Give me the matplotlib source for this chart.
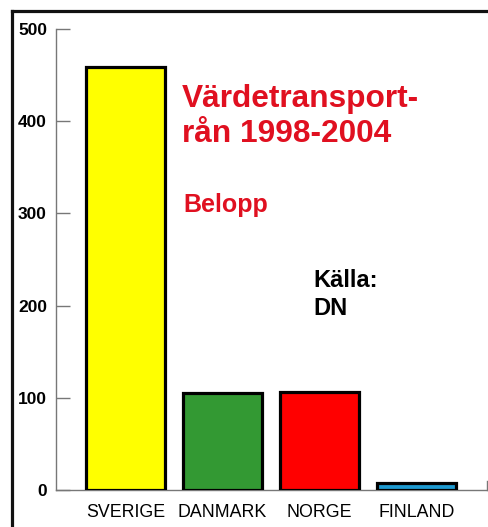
import matplotlib
matplotlib.use('Agg')
import matplotlib.pyplot as plt
from matplotlib.lines import Line2D

plt.rcParams['font.family'] = ['Liberation Sans', 'DejaVu Sans']

# data
countries = ['SVERIGE', 'DANMARK', 'NORGE', 'FINLAND']
belopp = [459, 105, 106, 8]
bar_colors = ['#ffff00', '#339933', '#ff0000', '#1e9ad0']
y_ticks = [0, 100, 200, 300, 400, 500]

W, H = 489, 527
fig = plt.figure(figsize=(W / 100, H / 100), dpi=100)
fig.patch.set_facecolor('white')

# plot area in pixels: x 56..487, y 29..490
ax = fig.add_axes([56 / W, 1 - 490 / H, (487 - 56) / W, (490 - 29) / H])
ax.set_facecolor('none')

x = list(range(len(countries)))
ax.bar(x, belopp, width=0.815, color=bar_colors, edgecolor='black', linewidth=2.3, zorder=3)

ax.set_xlim(-0.716, 3.727)
ax.set_ylim(0, 500)
ax.set_yticks(y_ticks)
ax.set_xticks(x)
ax.set_xticklabels(countries, fontsize=12.8)

ax.spines['top'].set_visible(False)
for s in ['left', 'bottom', 'right']:
    ax.spines[s].set_color('#777777')
    ax.spines[s].set_linewidth(1.0)
ax.spines['right'].set_bounds(0, 10)

ax.tick_params(axis='y', direction='in', length=10, color='#777777', width=1.0,
               pad=6.5, labelsize=12.5)
ax.tick_params(axis='x', length=0, pad=10)
for lbl in ax.get_yticklabels():
    lbl.set_fontweight('bold')

# annotations
red = '#e01020'
fig.text(182 / W, 1 - 107 / H, 'Värdetransport-', color=red, fontsize=22.8,
         fontweight='bold', va='baseline', ha='left')
fig.text(182 / W, 1 - 142 / H, 'rån 1998-2004', color=red, fontsize=22.8,
         fontweight='bold', va='baseline', ha='left')
fig.text(183 / W, 1 - 212 / H, 'Belopp', color=red, fontsize=18,
         fontweight='bold', va='baseline', ha='left')
fig.text(313 / W, 1 - 287 / H, 'Källa:', color='black', fontsize=17,
         fontweight='bold', va='baseline', ha='left')
fig.text(313 / W, 1 - 315 / H, 'DN', color='black', fontsize=17,
         fontweight='bold', va='baseline', ha='left')

# outer frame (left and top edge)
fig.add_artist(Line2D([12.5 / W, 12.5 / W], [0, 1 - 10.5 / H], color='#111111', linewidth=2.3))
fig.add_artist(Line2D([12.5 / W, 1], [1 - 10.5 / H, 1 - 10.5 / H], color='#111111', linewidth=2.3))

fig.savefig('out.png', dpi=100)
